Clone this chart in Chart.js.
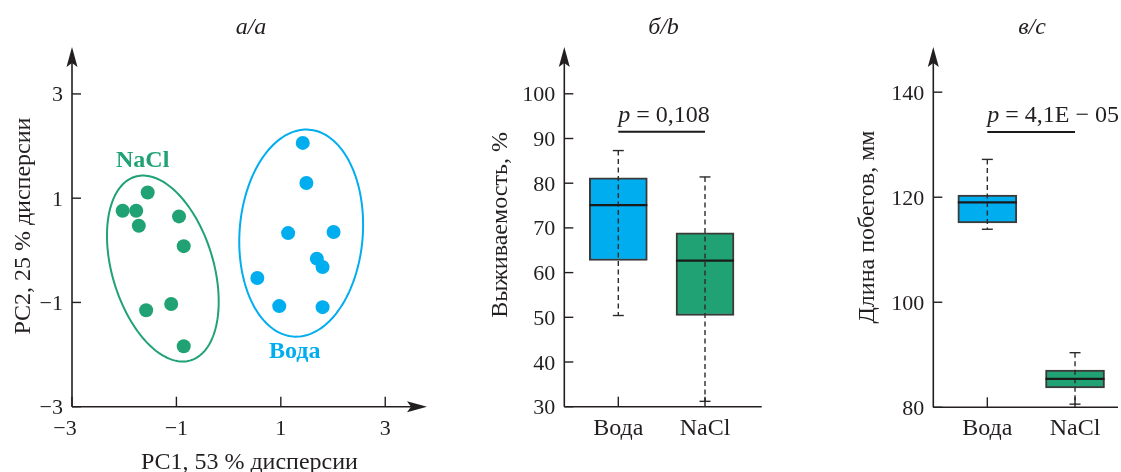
<!DOCTYPE html>
<html><head><meta charset="utf-8">
<script src="https://cdn.jsdelivr.net/npm/chart.js@4/dist/chart.umd.min.js"></script>
<style>
html,body{margin:0;padding:0;background:#fff;}
#wrap{position:relative;width:1121px;height:472px;overflow:hidden;background:#fff;}
canvas{position:absolute;top:0;}
</style></head><body>
<div id="wrap">
<canvas id="ca" width="440" height="472" style="left:0;width:440px;height:472px"></canvas>
<canvas id="cb" width="330" height="472" style="left:440px;width:330px;height:472px"></canvas>
<canvas id="cc" width="351" height="472" style="left:770px;width:351px;height:472px"></canvas>
</div>
<script>
// ---------- data ----------
const pcaNaClX  = [-1.55, -2.03, -1.77, -1.72, -0.95, -0.86, -1.10, -1.58, -0.86];
const pcaNaClY  = [ 1.11,  0.76,  0.76,  0.47,  0.65,  0.08, -1.03, -1.15, -1.84];
const pcaWaterX = [ 1.42,  1.49,  1.14,  2.01,  1.69,  1.80,  0.55,  0.97,  1.80];
const pcaWaterY = [ 2.06,  1.29,  0.33,  0.35, -0.16, -0.32, -0.53, -1.07, -1.09];
const pcaTicks  = [-3, -1, 1, 3];

const groups = ['Вода', 'NaCl'];
const survivalMin = [50.4, 31.2];
const survivalQ1  = [62.7, 50.4];
const survivalMed = [75.1, 62.7];
const survivalQ3  = [81.2, 68.9];
const survivalMax = [87.3, 81.4];
const survivalTicks = [30, 40, 50, 60, 70, 80, 90, 100];

const lengthMin = [113.9, 80.6];
const lengthQ1  = [115.1, 83.7];
const lengthMed = [119.0, 85.4];
const lengthQ3  = [120.4, 87.1];
const lengthMax = [127.2, 90.4];
const lengthTicks = [80, 100, 120, 140];

const pSurvival = '0,108';
const pLength = '4,1E − 05';

// ---------- styles ----------
const FONT = '"Liberation Serif","Times New Roman",serif';
const AX = '#231f20';
const BLUE = '#00adef';
const GREEN = '#20a274';
const fmt = v => (v < 0 ? '−' + Math.abs(v) : String(v));

function arrowUp(ctx, x, tip) {
  ctx.beginPath(); ctx.moveTo(x, tip); ctx.lineTo(x + 5.5, tip + 20);
  ctx.lineTo(x, tip + 16); ctx.lineTo(x - 5.5, tip + 20); ctx.closePath(); ctx.fill();
}
function arrowRight(ctx, tip, y) {
  ctx.beginPath(); ctx.moveTo(tip, y); ctx.lineTo(tip - 20, y - 5.5);
  ctx.lineTo(tip - 16, y); ctx.lineTo(tip - 20, y + 5.5); ctx.closePath(); ctx.fill();
}

function axesPlugin(cfg) {
  return {
    id: 'axesDraw',
    afterDraw(chart) {
      const ctx = chart.ctx, xs = chart.scales.x, ys = chart.scales.y, ca = chart.chartArea;
      const x0 = ca.left, y0 = ca.bottom;
      ctx.save();
      ctx.strokeStyle = AX; ctx.fillStyle = AX; ctx.lineWidth = 1.6;
      ctx.beginPath(); ctx.moveTo(x0, y0); ctx.lineTo(x0, ca.top + 16); ctx.stroke();
      arrowUp(ctx, x0, ca.top);
      ctx.beginPath(); ctx.moveTo(x0, y0); ctx.lineTo(cfg.xArrow ? ca.right - 16 : ca.right, y0); ctx.stroke();
      if (cfg.xArrow) arrowRight(ctx, ca.right, y0);
      ctx.lineWidth = 1.4;
      cfg.yTicks.forEach(v => {
        const py = ys.getPixelForValue(v);
        ctx.beginPath(); ctx.moveTo(x0, py); ctx.lineTo(x0 + 9, py); ctx.stroke();
      });
      cfg.xTicks.forEach(v => {
        const px = xs.getPixelForValue(v);
        ctx.beginPath(); ctx.moveTo(px, y0); ctx.lineTo(px, y0 - 10); ctx.stroke();
      });
      ctx.font = '22px ' + FONT; ctx.fillStyle = '#231f20';
      ctx.textAlign = 'right'; ctx.textBaseline = 'alphabetic';
      cfg.yTicks.forEach((v, i) => {
        ctx.fillText(cfg.yLabels[i], x0 - 9, ys.getPixelForValue(v) + 7.5);
      });
      ctx.textAlign = 'center';
      ctx.font = cfg.xLabelFont + 'px ' + FONT;
      cfg.xTicks.forEach((v, i) => {
        ctx.fillText(cfg.xLabels[i], xs.getPixelForValue(v) + (cfg.xLabelShift ? cfg.xLabelShift[i] : 0), 435);
      });
      ctx.font = 'italic 24px ' + FONT;
      ctx.fillText(cfg.title, cfg.titleX, 34);
      ctx.font = '24px ' + FONT;
      if (cfg.xTitle) ctx.fillText(cfg.xTitle, (x0 + ca.right) / 2, 469);
      ctx.save();
      ctx.translate(cfg.yTitleX, cfg.yTitleY); ctx.rotate(-Math.PI / 2);
      ctx.fillText(cfg.yTitle, 0, 0);
      ctx.restore();
      ctx.restore();
    }
  };
}

const ellipsePlugin = {
  id: 'ellipses',
  afterDatasetsDraw(chart, args, opts) {
    const ctx = chart.ctx, xs = chart.scales.x, ys = chart.scales.y;
    ctx.save();
    opts.items.forEach(e => {
      const th = e.angle * Math.PI / 180;
      const u = [-Math.sin(th), Math.cos(th)], w = [Math.cos(th), Math.sin(th)];
      ctx.beginPath();
      for (let k = 0; k <= 180; k++) {
        const t = k / 180 * 2 * Math.PI;
        const dx = e.cx + e.a * Math.cos(t) * u[0] + e.b * Math.sin(t) * w[0];
        const dy = e.cy + e.a * Math.cos(t) * u[1] + e.b * Math.sin(t) * w[1];
        const px = xs.getPixelForValue(dx), py = ys.getPixelForValue(dy);
        if (k === 0) ctx.moveTo(px, py); else ctx.lineTo(px, py);
      }
      ctx.closePath();
      ctx.strokeStyle = e.color; ctx.lineWidth = 2; ctx.stroke();
      ctx.font = 'bold 24px ' + FONT; ctx.fillStyle = e.color;
      ctx.textAlign = 'center'; ctx.textBaseline = 'alphabetic';
      ctx.fillText(e.label, xs.getPixelForValue(e.lx), ys.getPixelForValue(e.ly));
    });
    ctx.restore();
  }
};

function boxPlugin(mins, meds, maxs, pText, pLevel, half) {
  return {
    id: 'boxExtras',
    afterDatasetsDraw(chart) {
      const ctx = chart.ctx, xs = chart.scales.x, ys = chart.scales.y;
      ctx.save();
      groups.forEach((g, i) => {
        const px = xs.getPixelForValue(i + 1);
        ctx.strokeStyle = '#2b2b2b'; ctx.lineWidth = 1.4;
        ctx.setLineDash([5, 3.5]);
        ctx.beginPath(); ctx.moveTo(px, ys.getPixelForValue(maxs[i])); ctx.lineTo(px, ys.getPixelForValue(mins[i])); ctx.stroke();
        ctx.setLineDash([]);
        [mins[i], maxs[i]].forEach(v => {
          const py = ys.getPixelForValue(v);
          ctx.beginPath(); ctx.moveTo(px - 5.5, py); ctx.lineTo(px + 5.5, py); ctx.stroke();
        });
        const my = ys.getPixelForValue(meds[i]);
        ctx.strokeStyle = '#1a1a1a'; ctx.lineWidth = 2.2;
        ctx.beginPath(); ctx.moveTo(px - half, my); ctx.lineTo(px + half, my); ctx.stroke();
      });
      const xa = xs.getPixelForValue(1), xb = xs.getPixelForValue(2), ly = ys.getPixelForValue(pLevel);
      ctx.strokeStyle = '#1a1a1a'; ctx.lineWidth = 2;
      ctx.beginPath(); ctx.moveTo(xa, ly); ctx.lineTo(xb, ly); ctx.stroke();
      ctx.fillStyle = '#231f20'; ctx.textAlign = 'left'; ctx.textBaseline = 'alphabetic';
      ctx.font = 'italic 24px ' + FONT;
      ctx.fillText('p', xa, ly - 10);
      const wp = ctx.measureText('p').width;
      ctx.font = '24px ' + FONT;
      ctx.fillText(' = ' + pText, xa + wp, ly - 10);
      ctx.restore();
    }
  };
}

Chart.defaults.animation = false;
Chart.defaults.events = [];
Chart.defaults.plugins.legend.display = false;
Chart.defaults.plugins.tooltip.enabled = false;

// ---------- panel a ----------
new Chart(document.getElementById('ca'), {
  type: 'scatter',
  data: {
    datasets: [
      { label: 'NaCl', data: pcaNaClX.map((x, i) => ({ x, y: pcaNaClY[i] })),
        backgroundColor: GREEN, borderColor: GREEN, pointRadius: 7, borderWidth: 0 },
      { label: 'Вода', data: pcaWaterX.map((x, i) => ({ x, y: pcaWaterY[i] })),
        backgroundColor: BLUE, borderColor: BLUE, pointRadius: 7, borderWidth: 0 }
    ]
  },
  options: {
    responsive: false, devicePixelRatio: 1,
    layout: { padding: { left: 72, right: 13, top: 47, bottom: 65.3 } },
    scales: {
      x: { type: 'linear', min: -3, max: 3.8, display: false },
      y: { type: 'linear', min: -3, max: 3.9, display: false }
    },
    plugins: {
      ellipses: { items: [
        { cx: -1.26, cy: -0.35, a: 1.84, b: 0.97, angle: 16.8, color: GREEN, label: 'NaCl', lx: -1.646, ly: 1.598 },
        { cx: 1.39, cy: 0.33, a: 1.99, b: 1.18, angle: -4.3, color: BLUE, label: 'Вода', lx: 1.266, ly: -2.073 }
      ] }
    }
  },
  plugins: [ellipsePlugin, axesPlugin({
    xArrow: true, xTicks: pcaTicks, xLabels: pcaTicks.map(fmt), xLabelShift: [-7, 0, 0, 0], xLabelFont: 22,
    yTicks: pcaTicks, yLabels: pcaTicks.map(fmt),
    title: 'а/a', titleX: 251, xTitle: 'PC1, 53 % дисперсии',
    yTitle: 'PC2, 25 % дисперсии', yTitleX: 30, yTitleY: 226
  })]
});

// ---------- panel b ----------
new Chart(document.getElementById('cb'), {
  type: 'bar',
  data: {
    datasets: [{
      data: groups.map((g, i) => ({ x: i + 1, y: [survivalQ1[i], survivalQ3[i]] })),
      backgroundColor: [BLUE, GREEN], borderColor: '#3a3a3a', borderWidth: 2,
      borderSkipped: false, barThickness: 58
    }]
  },
  options: {
    responsive: false, devicePixelRatio: 1,
    layout: { padding: { left: 124.3, right: 8.3, top: 47, bottom: 65.3 } },
    scales: {
      x: { type: 'linear', offset: false, min: 0.377, max: 2.654, display: false },
      y: { type: 'linear', min: 30, max: 110.47, display: false }
    }
  },
  plugins: [boxPlugin(survivalMin, survivalMed, survivalMax, pSurvival, 91.5, 29), axesPlugin({
    xArrow: false, xTicks: [1, 2], xLabels: groups, xLabelFont: 24,
    yTicks: survivalTicks, yLabels: survivalTicks.map(String),
    title: 'б/b', titleX: 223.5,
    yTitle: 'Выживаемость, %', yTitleX: 67, yTitleY: 225
  })]
});

// ---------- panel c ----------
new Chart(document.getElementById('cc'), {
  type: 'bar',
  data: {
    datasets: [{
      data: groups.map((g, i) => ({ x: i + 1, y: [lengthQ1[i], lengthQ3[i]] })),
      backgroundColor: [BLUE, GREEN], borderColor: '#3a3a3a', borderWidth: 2,
      borderSkipped: false, barThickness: 59
    }]
  },
  options: {
    responsive: false, devicePixelRatio: 1,
    layout: { padding: { left: 163.3, right: 3, top: 47, bottom: 64.7 } },
    scales: {
      x: { type: 'linear', offset: false, min: 0.384, max: 2.49, display: false },
      y: { type: 'linear', min: 80, max: 148.6, display: false }
    }
  },
  plugins: [boxPlugin(lengthMin, lengthMed, lengthMax, pLength, 132.4, 29.5), axesPlugin({
    xArrow: false, xTicks: [1, 2], xLabels: groups, xLabelFont: 24,
    yTicks: lengthTicks, yLabels: lengthTicks.map(String),
    title: 'в/с', titleX: 262,
    yTitle: 'Длина побегов, мм', yTitleX: 104, yTitleY: 227
  })]
});
</script>
</body></html>
